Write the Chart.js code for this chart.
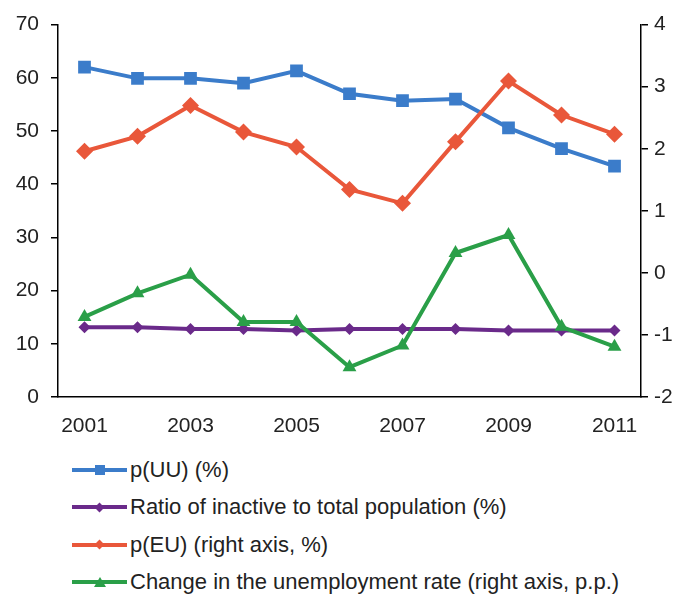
<!DOCTYPE html>
<html>
<head>
<meta charset="utf-8">
<script src="https://cdn.jsdelivr.net/npm/chart.js@4/dist/chart.umd.min.js"></script>
<style>
  html, body { margin: 0; padding: 0; background: #fff; }
  #wrap { position: relative; width: 682px; height: 595px; }
  #box { position: absolute; left: 0; top: 0; width: 682px; height: 445px; }
  #legend { position: absolute; left: 72px; top: 451px; font-family: "Liberation Sans", Arial, sans-serif; font-size: 22px; color: #222; }
  .row { height: 37.5px; display: flex; align-items: center; white-space: nowrap; }
  .key { position: relative; width: 55px; height: 20px; margin-right: 3px; }
  .key .ln { position: absolute; left: 0; right: 0; top: 8px; height: 4px; }
  .key .mk { position: absolute; left: 50%; top: 50%; }
</style>
</head>
<body>
<div id="wrap">
  <div id="box"><canvas id="chart"></canvas></div>
  <div id="legend"></div>
</div>
<script>
// years on the x axis
let years = ['2001', '2002', '2003', '2004', '2005', '2006', '2007', '2008', '2009', '2010', '2011'];
let yearLabels = ['2001', '', '2003', '', '2005', '', '2007', '', '2009', '', '2011'];

// left axis (%)
let pUU = [62.0, 59.9, 59.9, 59.0, 61.3, 57.0, 55.7, 56.0, 50.6, 46.7, 43.4];
let inactive = [13.1, 13.1, 12.8, 12.8, 12.5, 12.8, 12.8, 12.8, 12.5, 12.5, 12.5];
let pEU = [46.2, 49.0, 54.8, 49.8, 47.0, 39.0, 36.4, 48.0, 59.4, 53.0, 49.4];

// right axis (p.p.)
let unempChange = [-0.71, -0.33, -0.03, -0.79, -0.79, -1.52, -1.17, 0.32, 0.61, -0.87, -1.19];

let seriesNames = [
    'p(UU) (%)',
    'Ratio of inactive to total population (%)',
    'p(EU) (right axis, %)',
    'Change in the unemployment rate (right axis, p.p.)'
];

let blue = '#3b7cca';
let purple = '#6a2a8a';
let red = '#e9573a';
let green = '#2a9f48';

let tickFont = { family: '"Liberation Sans", Arial, sans-serif', size: 21 };

function lineSet(label, data, color, style, radius, axis) {
    return {
        label: label,
        data: data,
        yAxisID: axis,
        borderColor: color,
        backgroundColor: color,
        borderWidth: 4,
        pointStyle: style,
        pointRadius: radius,
        pointHoverRadius: radius,
        pointBorderWidth: 0,
        tension: 0
    };
}

let config = {
    type: 'line',
    data: {
        labels: years,
        datasets: [
            lineSet(seriesNames[3], unempChange, green, 'triangle', 8, 'y2'),
            lineSet(seriesNames[2], pEU, red, 'rectRot', 8.5, 'y'),
            lineSet(seriesNames[1], inactive, purple, 'rectRot', 6, 'y'),
            lineSet(seriesNames[0], pUU, blue, 'rect', 9, 'y')
        ]
    },
    options: {
        responsive: true,
        maintainAspectRatio: false,
        animation: false,
        layout: { padding: { top: 18, left: 0, right: 0, bottom: 0 } },
        plugins: {
            legend: { display: false },
            tooltip: { enabled: false }
        },
        scales: {
            x: {
                offset: true,
                grid: { display: false, drawTicks: false },
                border: { display: true, color: '#000', width: 1.5 },
                ticks: {
                    color: '#222',
                    font: tickFont,
                    padding: 17,
                    maxRotation: 0,
                    autoSkip: false,
                    callback: function (v, i) { return yearLabels[i]; }
                },
                afterFit: function (s) { s.height = 48; }
            },
            y: {
                position: 'left',
                min: 0,
                max: 70,
                ticks: { stepSize: 10, color: '#222', font: tickFont, padding: 12 },
                grid: { drawOnChartArea: false, tickLength: 7, color: '#000', lineWidth: 1.5 },
                border: { display: true, color: '#000', width: 1.5 },
                afterFit: function (s) { s.width = 58; }
            },
            y2: {
                position: 'right',
                min: -2,
                max: 4,
                ticks: { stepSize: 1, color: '#222', font: tickFont, padding: 6 },
                grid: { drawOnChartArea: false, tickLength: 7, color: '#000', lineWidth: 1.5 },
                border: { display: true, color: '#000', width: 1.5 },
                afterFit: function (s) { s.width = 41; }
            }
        }
    }
};

let ctx = document.getElementById('chart').getContext('2d');
let chart = new Chart(ctx, config);

// legend below the chart, drawn as html so the line+marker keys match
let legendItems = [
    { name: seriesNames[0], color: blue, marker: 'square' },
    { name: seriesNames[1], color: purple, marker: 'diamond' },
    { name: seriesNames[2], color: red, marker: 'diamond' },
    { name: seriesNames[3], color: green, marker: 'triangle' }
];
let legend = document.getElementById('legend');
legendItems.forEach(function (item) {
    let row = document.createElement('div');
    row.className = 'row';
    let key = document.createElement('div');
    key.className = 'key';
    let ln = document.createElement('div');
    ln.className = 'ln';
    ln.style.background = item.color;
    key.appendChild(ln);
    let mk = document.createElement('div');
    mk.className = 'mk';
    if (item.marker === 'square') {
        mk.style.cssText += 'width:10px;height:10px;margin:-5px 0 0 -5px;background:' + item.color;
    } else if (item.marker === 'triangle') {
        mk.style.cssText += 'width:0;height:0;margin:-5px 0 0 -6px;border-left:6px solid transparent;border-right:6px solid transparent;border-bottom:10px solid ' + item.color;
    } else {
        mk.style.cssText += 'width:7px;height:7px;margin:-3.5px 0 0 -3.5px;transform:rotate(45deg);background:' + item.color;
    }
    key.appendChild(mk);
    row.appendChild(key);
    let txt = document.createElement('span');
    txt.textContent = item.name;
    row.appendChild(txt);
    legend.appendChild(row);
});
</script>
</body>
</html>
